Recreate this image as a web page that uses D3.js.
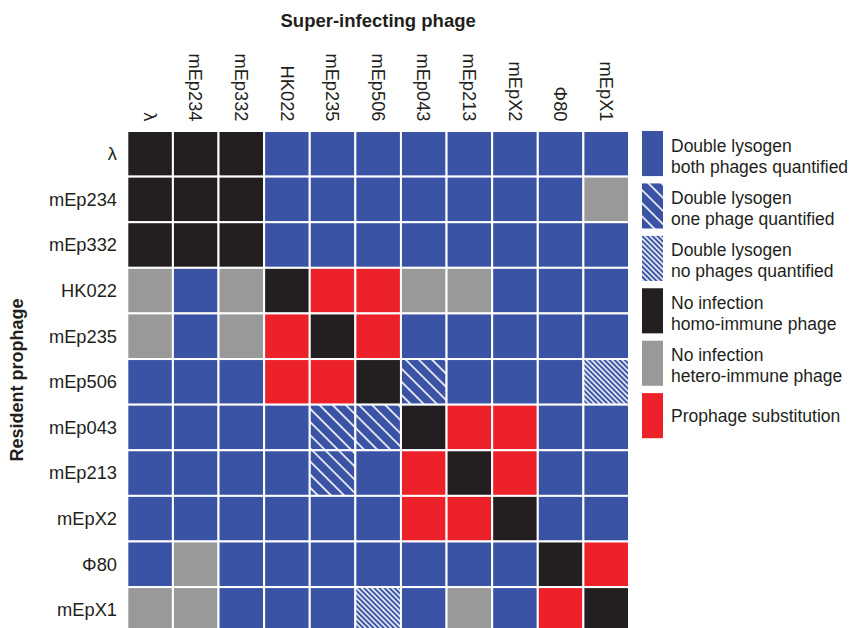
<!DOCTYPE html>
<html>
<head>
<meta charset="utf-8">
<script src="https://cdn.jsdelivr.net/npm/d3@7"></script>
<style>
  body { margin: 0; background: #fff; }
  svg text { font-family: "Liberation Sans", Arial, Helvetica, sans-serif; fill: #231f20; }
</style>
</head>
<body>
<div id="chart"></div>
<script>
// data vars
const phages = ["λ", "mEp234", "mEp332", "HK022", "mEp235", "mEp506",
  "mEp043", "mEp213", "mEpX2", "Φ80", "mEpX1"];

// one letter per super-infecting phage, rows = resident prophage
// B both quantified, O one quantified, N none quantified, K homo-immune, G hetero-immune, R substitution
const outcomeRows = [
  "KKKBBBBBBBB",
  "KKKBBBBBBBG",
  "KKKBBBBBBBB",
  "GBGKRRGGBBB",
  "GBGRKRBBBBB",
  "BBBRRKOBBBN",
  "BBBBOOKRRBB",
  "BBBBOBRKRBB",
  "BBBBBBRRKBB",
  "BGBBBBBBBKR",
  "GGBBBNBGBRK"
];

const categoryCodes = ["B", "O", "N", "K", "G", "R"];
const legendLines = [
  ["Double lysogen", "both phages quantified"],
  ["Double lysogen", "one phage quantified"],
  ["Double lysogen", "no phages quantified"],
  ["No infection", "homo-immune phage"],
  ["No infection", "hetero-immune phage"],
  ["Prophage substitution"]
];

// constants
const width = 860;
const height = 628;
const blue = "#3a53a4";
const grid = { left: 127.3, right: 629, top: 131, bottom: 632.7 };

const fill = d3.scaleOrdinal()
  .domain(categoryCodes)
  .range([blue, "url(#hatchOne)", "url(#hatchNone)", "#231f20", "#999999", "#ed2129"]);

const cells = [];
outcomeRows.forEach((row, i) => {
  row.split("").forEach((code, j) => {
    cells.push({ resident: phages[i], infecting: phages[j], code: code });
  });
});

const x = d3.scaleBand()
  .domain(phages)
  .range([grid.left, grid.right]);

const y = d3.scaleBand()
  .domain(phages)
  .range([grid.top, grid.bottom]);

const svg = d3.select("#chart")
  .append("svg")
  .attr("width", width)
  .attr("height", height);

// hatch patterns
const defs = svg.append("defs");
function addHatch(id, spacing, lineWidth) {
  const p = defs.append("pattern")
    .attr("id", id)
    .attr("patternUnits", "userSpaceOnUse")
    .attr("width", 10)
    .attr("height", spacing)
    .attr("patternTransform", "rotate(45)");
  p.append("rect")
    .attr("width", 10)
    .attr("height", spacing)
    .attr("fill", blue);
  p.append("line")
    .attr("x1", 0).attr("x2", 10)
    .attr("y1", spacing / 2).attr("y2", spacing / 2)
    .attr("stroke", "#fff")
    .attr("stroke-width", lineWidth);
}
addHatch("hatchOne", 9.3, 1.6);
addHatch("hatchNone", 3.6, 1.5);

// cells
svg.append("g")
  .selectAll("rect")
  .data(cells)
  .join("rect")
  .attr("x", d => x(d.infecting))
  .attr("y", d => y(d.resident))
  .attr("width", x.bandwidth())
  .attr("height", y.bandwidth())
  .attr("fill", d => fill(d.code))
  .attr("stroke", "#fff")
  .attr("stroke-width", 2);

// column labels
svg.append("g")
  .selectAll("text")
  .data(phages)
  .join("text")
  .attr("transform", d => `translate(${x(d) + x.bandwidth() / 2}, 121.5) rotate(90)`)
  .attr("text-anchor", "end")
  .attr("dy", "0.35em")
  .style("font-size", "18.3px")
  .text(d => d);

// row labels
svg.append("g")
  .selectAll("text")
  .data(phages)
  .join("text")
  .attr("x", 117)
  .attr("y", d => y(d) + y.bandwidth() / 2)
  .attr("text-anchor", "end")
  .attr("dy", "0.35em")
  .style("font-size", "18.3px")
  .text(d => d);

// axis titles
svg.append("text")
  .attr("x", (grid.left + grid.right) / 2)
  .attr("y", 27)
  .attr("text-anchor", "middle")
  .style("font-size", "18.5px")
  .style("font-weight", "bold")
  .text("Super-infecting phage");

svg.append("text")
  .attr("transform", "translate(23, 380) rotate(-90)")
  .attr("text-anchor", "middle")
  .style("font-size", "18px")
  .style("font-weight", "bold")
  .text("Resident prophage");

// legend
const legendY = d3.scaleBand()
  .domain(categoryCodes)
  .range([131, 131 + 51.2 * 6])
  .paddingInner(0.14)
  .paddingOuter(0);

const legend = svg.append("g")
  .selectAll("g")
  .data(categoryCodes)
  .join("g")
  .attr("transform", d => `translate(642, ${legendY(d)})`);

legend.append("rect")
  .attr("width", 21)
  .attr("height", legendY.bandwidth())
  .attr("fill", d => fill(d));

legend.each(function(d, i) {
  const lines = legendLines[i];
  const g = d3.select(this);
  lines.forEach((t, k) => {
    g.append("text")
      .attr("x", 29)
      .attr("y", lines.length === 1 ? legendY.bandwidth() / 2 : 20.5 + k * 21)
      .attr("dy", lines.length === 1 ? "0.35em" : 0)
      .style("font-size", "17.5px")
      .text(t);
  });
});
</script>
</body>
</html>
